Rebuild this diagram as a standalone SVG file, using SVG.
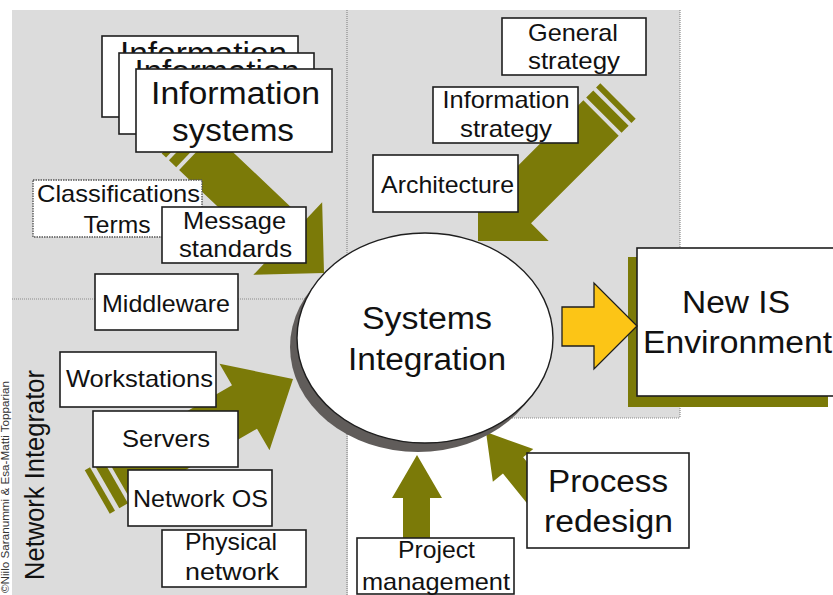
<svg xmlns="http://www.w3.org/2000/svg" width="833" height="595" viewBox="0 0 833 595">
  <defs>
    <style>
      .panel { fill: #dcdcdc; }
      .divider { stroke: #8a8a8a; stroke-width: 1.2; stroke-dasharray: 1 1; fill: none; }
      .box { fill: #ffffff; stroke: #1e1e1e; stroke-width: 1.6; }
      .box-dotted { fill: #ffffff; stroke: #555555; stroke-width: 1.4; stroke-dasharray: 1.5 1; }
      .olive { fill: #7b7a08; }
      .lbl { font-family: "Liberation Sans", Arial, Helvetica, sans-serif; fill: #111111; text-anchor: middle; }
      .big { font-size: 31px; }
      .mid { font-size: 24px; }
    </style>
    <!-- broad arrow: tip at origin, pointing along +x, shaft ends at x=-S with two stripes behind -->
  </defs>

  <rect x="0" y="0" width="833" height="595" fill="#ffffff"/>

  <!-- background panels -->
  <rect class="panel" x="12" y="10" width="336" height="585"/>
  <rect class="panel" x="347" y="10" width="333" height="408"/>

  <!-- panel dividers -->
  <g id="dividers">
    <line class="divider" x1="12" y1="299" x2="305" y2="299"/>
    <line class="divider" x1="347" y1="10" x2="347" y2="595"/>
    <line class="divider" x1="680" y1="10" x2="680" y2="418"/>
    <line class="divider" x1="480" y1="418" x2="680" y2="418"/>
  </g>

  <!-- connectors -->
  <g id="connectors">
    <!-- from Information systems -->
    <g transform="translate(324 273) rotate(43.5)" class="olive">
      <polygon points="0,0 -50,-50 -50,-25 -176,-25 -176,25 -50,25 -50,50"/>
      <rect x="-190" y="-25" width="10" height="50"/>
      <rect x="-200" y="-25" width="6" height="50"/>
    </g>
    <!-- from strategy stack -->
    <g transform="translate(478 241) rotate(135)" class="olive">
      <polygon points="0,0 -50,-50 -50,-25 -174,-25 -174,25 -50,25 -50,50"/>
      <rect x="-188" y="-25" width="10" height="50"/>
      <rect x="-198" y="-25" width="6" height="50"/>
    </g>
    <!-- from network stack -->
    <g transform="translate(293 379) rotate(-30)" class="olive">
      <polygon points="0,0 -56,-50 -56,-25 -201,-25 -201,25 -56,25 -56,50"/>
      <rect x="-215" y="-25" width="10" height="50"/>
      <rect x="-226" y="-25" width="6" height="50"/>
    </g>
    <!-- from Project management -->
    <polygon class="olive" points="417,455 442,498 430,498 430,545 403,545 403,498 392,498"/>
    <!-- from Process redesign -->
    <g transform="translate(486 432) rotate(-129)" class="olive">
      <polygon points="0,0 -43,-26 -43,-13 -100,-13 -100,13 -43,13 -43,26"/>
    </g>
  </g>

  <!-- Information systems stack -->
  <g id="info-systems">
    <rect class="box" x="102" y="36" width="196" height="81"/>
    <text class="lbl big" x="203.5" y="64" textLength="167" lengthAdjust="spacingAndGlyphs">Information</text>
    <rect class="box" x="119" y="53" width="195" height="81"/>
    <text class="lbl big" x="217" y="82" textLength="165" lengthAdjust="spacingAndGlyphs">Information</text>
    <rect class="box" x="136" y="69" width="196" height="83"/>
    <text class="lbl big" x="235.5" y="104" textLength="169" lengthAdjust="spacingAndGlyphs">Information</text>
    <text class="lbl big" x="233" y="141" textLength="122" lengthAdjust="spacingAndGlyphs">systems</text>
  </g>

  <g id="classifications">
    <rect class="box-dotted" x="33" y="180" width="169" height="57"/>
    <text class="lbl mid" x="118.5" y="202" textLength="163" lengthAdjust="spacingAndGlyphs">Classifications</text>
    <text class="lbl mid" x="117" y="233" textLength="67" lengthAdjust="spacingAndGlyphs">Terms</text>
  </g>

  <g id="message-standards">
    <rect class="box" x="162" y="207" width="144" height="56"/>
    <text class="lbl mid" x="234.5" y="229" textLength="103" lengthAdjust="spacingAndGlyphs">Message</text>
    <text class="lbl mid" x="235.5" y="257" textLength="113" lengthAdjust="spacingAndGlyphs">standards</text>
  </g>

  <g id="middleware">
    <rect class="box" x="95" y="274" width="143" height="56"/>
    <text class="lbl mid" x="166" y="312" textLength="128" lengthAdjust="spacingAndGlyphs">Middleware</text>
  </g>

  <g id="general-strategy">
    <rect class="box" x="502" y="18" width="144" height="57"/>
    <text class="lbl mid" x="573" y="41" textLength="90" lengthAdjust="spacingAndGlyphs">General</text>
    <text class="lbl mid" x="574" y="69" textLength="92" lengthAdjust="spacingAndGlyphs">strategy</text>
  </g>

  <g id="information-strategy">
    <rect class="box" x="433" y="87" width="145" height="56"/>
    <text class="lbl mid" x="506" y="108" textLength="127" lengthAdjust="spacingAndGlyphs">Information</text>
    <text class="lbl mid" x="506" y="137" textLength="92" lengthAdjust="spacingAndGlyphs">strategy</text>
  </g>

  <g id="architecture">
    <rect class="box" x="373" y="155" width="145" height="57"/>
    <text class="lbl mid" x="447.5" y="193" textLength="133" lengthAdjust="spacingAndGlyphs">Architecture</text>
  </g>

  <!-- central node -->
  <g id="systems-integration">
    <ellipse cx="418" cy="347" rx="128" ry="105" fill="#605c5a"/>
    <ellipse cx="425" cy="338" rx="128" ry="105" fill="#ffffff" stroke="#1e1e1e" stroke-width="1.4"/>
    <text class="lbl big" x="427" y="329" textLength="130" lengthAdjust="spacingAndGlyphs">Systems</text>
    <text class="lbl big" x="427" y="370" textLength="158" lengthAdjust="spacingAndGlyphs">Integration</text>
  </g>

  <g id="workstations">
    <rect class="box" x="60" y="352" width="156" height="55"/>
    <text class="lbl mid" x="139.5" y="387" textLength="147" lengthAdjust="spacingAndGlyphs">Workstations</text>
  </g>

  <g id="servers">
    <rect class="box" x="93" y="411" width="145" height="56"/>
    <text class="lbl mid" x="166" y="447" textLength="88" lengthAdjust="spacingAndGlyphs">Servers</text>
  </g>

  <g id="network-os">
    <rect class="box" x="128" y="470" width="144" height="56"/>
    <text class="lbl mid" x="200.5" y="507" textLength="135" lengthAdjust="spacingAndGlyphs">Network OS</text>
  </g>

  <g id="physical-network">
    <rect class="box" x="162" y="530" width="144" height="57"/>
    <text class="lbl mid" x="231" y="550" textLength="92" lengthAdjust="spacingAndGlyphs">Physical</text>
    <text class="lbl mid" x="232" y="580" textLength="94" lengthAdjust="spacingAndGlyphs">network</text>
  </g>

  <g id="project-management">
    <rect class="box" x="357" y="538" width="157" height="56"/>
    <text class="lbl mid" x="436.5" y="558" textLength="77" lengthAdjust="spacingAndGlyphs">Project</text>
    <text class="lbl mid" x="436" y="590" textLength="148" lengthAdjust="spacingAndGlyphs">management</text>
  </g>

  <g id="process-redesign">
    <rect class="box" x="527" y="453" width="162" height="95"/>
    <text class="lbl big" x="608" y="492" textLength="120" lengthAdjust="spacingAndGlyphs">Process</text>
    <text class="lbl big" x="608.5" y="532" textLength="129" lengthAdjust="spacingAndGlyphs">redesign</text>
  </g>

  <g id="new-is-environment">
    <rect class="olive" x="628" y="257" width="200" height="150"/>
    <rect class="box" x="637" y="248" width="200" height="148"/>
    <text class="lbl big" x="736" y="313" textLength="108" lengthAdjust="spacingAndGlyphs">New IS</text>
    <text class="lbl big" x="737.5" y="353" textLength="189" lengthAdjust="spacingAndGlyphs">Environment</text>
  </g>

  <!-- output arrow -->
  <polygon points="562,307 594,307 594,283 637,326 594,369 594,346 562,346" fill="#fcc516" stroke="#1e1e1e" stroke-width="1.3" stroke-linejoin="miter"/>

  <!-- side titles -->
  <text class="lbl" style="font-size:27px; text-anchor:start" transform="translate(44 580) rotate(-90)" textLength="210" lengthAdjust="spacingAndGlyphs">Network Integrator</text>
  <text class="lbl" style="font-size:10px; text-anchor:start; fill:#333" transform="translate(9 593) rotate(-90)" textLength="212" lengthAdjust="spacingAndGlyphs">©Niilo Saranummi &amp; Esa-Matti Topparian</text>
</svg>
